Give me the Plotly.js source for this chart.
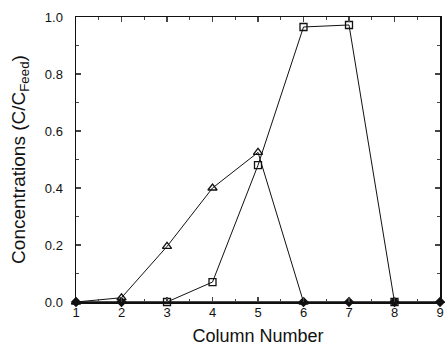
<!DOCTYPE html>
<html><head><meta charset="utf-8">
<script src="https://cdn.plot.ly/plotly-3.0.1.min.js"></script>
<style>html,body{margin:0;padding:0;background:#fff}</style>
</head><body><div id="chart" style="width:445px;height:352px"></div>
<script>
var triX = [1, 2, 3, 4, 5, 6];
var triY = [0, 0.015, 0.195, 0.40, 0.525, 0];
var sqX = [3, 4, 5, 6, 7, 8];
var sqY = [0, 0.07, 0.48, 0.965, 0.972, 0];
var dotX = [1, 2, 6, 7, 8, 9];
var dotY = [0, 0, 0, 0, 0, 0];
var xTicks = [1, 2, 3, 4, 5, 6, 7, 8, 9];
var yTicks = [0, 0.2, 0.4, 0.6, 0.8, 1.0];

var lineStyle = {color: '#111', width: 1};
var traces = [
  {x: triX, y: triY, mode: 'lines+markers', line: lineStyle,
   marker: {symbol: 'triangle-up-open', size: 8, color: '#111', line: {width: 1.3}}, cliponaxis: false, showlegend: false},
  {x: sqX, y: sqY, mode: 'lines+markers', line: lineStyle,
   marker: {symbol: 'square-open', size: 7, color: '#111', line: {width: 1.3}}, cliponaxis: false, showlegend: false},
  {x: dotX, y: dotY, mode: 'lines+markers', line: {color: '#111', width: 1.5},
   marker: {symbol: 'diamond', size: 8, color: '#111'}, cliponaxis: false, showlegend: false}
];
var font = {family: 'Liberation Sans, Arial, sans-serif', color: '#111'};
var layout = {
  width: 445, height: 352,
  margin: {l: 76, r: 5, t: 17, b: 50},
  paper_bgcolor: '#fff', plot_bgcolor: '#fff',
  font: font,
  xaxis: {range: [1, 9], tickvals: xTicks, ticks: 'inside', ticklen: 5, tickwidth: 1.3,
    minor: {dtick: 0.5, ticks: 'inside', ticklen: 3, tickwidth: 1},
    showline: true, linewidth: 1.5, linecolor: '#111', mirror: 'ticks', showgrid: false, zeroline: false,
    ticklabelstandoff: -2,
    tickfont: {size: 13, family: font.family, color: '#111'},
    title: {text: 'Column Number', font: {size: 18, family: font.family, color: '#111'}, standoff: 10}},
  yaxis: {range: [0, 1], tickvals: yTicks, tickformat: '.1f', ticks: 'inside', ticklen: 5, tickwidth: 1.3,
    minor: {dtick: 0.1, ticks: 'inside', ticklen: 3, tickwidth: 1},
    showline: true, linewidth: 1.5, linecolor: '#111', mirror: 'ticks', showgrid: false, zeroline: false,
    ticklabelstandoff: 9,
    tickfont: {size: 13, family: font.family, color: '#111'},
    title: {text: 'Concentrations (C/C<sub>Feed</sub>)', font: {size: 19, family: font.family, color: '#111'}, standoff: 14}}
};
Plotly.newPlot('chart', traces, layout, {displayModeBar: false, staticPlot: true});
</script></body></html>
